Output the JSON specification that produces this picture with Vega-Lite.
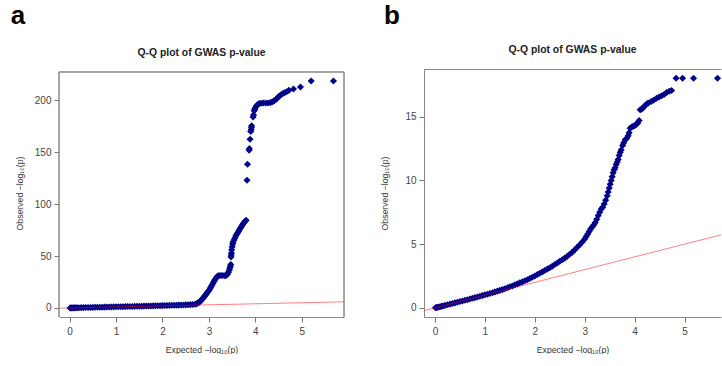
{
  "$schema": "https://vega.github.io/schema/vega-lite/v6.json",
  "padding": {"left": 10, "top": 3, "right": 0, "bottom": 0},
  "background": "white",
  "config": {
    "font": "Liberation Sans",
    "view": {"stroke": null},
    "axis": {"grid": false, "domain": false, "tickColor": "#777", "tickSize": 5, "labelColor": "#444", "labelFontSize": 10, "labelFont": "Liberation Sans", "labelPadding": 3, "titleFont": "Liberation Sans", "titleFontSize": 8.7, "titleFontWeight": "normal", "titleColor": "#333"},
    "title": {"font": "Liberation Sans"}
  },
  "datasets": {
    "qa": [
      {"x":0.01,"y":0.0},{"x":0.03,"y":0.02},{"x":0.05,"y":0.05},{"x":0.08,"y":0.07},{"x":0.1,"y":0.1},{"x":0.13,"y":0.12},{"x":0.16,"y":0.15},{"x":0.2,"y":0.2},{"x":0.25,"y":0.26},{"x":0.3,"y":0.3},{"x":0.35,"y":0.36},{"x":0.4,"y":0.41},{"x":0.45,"y":0.46},{"x":0.5,"y":0.52},{"x":0.55,"y":0.57},{"x":0.6,"y":0.62},{"x":0.65,"y":0.68},{"x":0.7,"y":0.73},{"x":0.75,"y":0.78},{"x":0.8,"y":0.84},{"x":0.85,"y":0.89},{"x":0.9,"y":0.95},{"x":0.95,"y":1.0},{"x":1.0,"y":1.06},{"x":1.05,"y":1.11},{"x":1.1,"y":1.17},{"x":1.15,"y":1.22},{"x":1.2,"y":1.28},{"x":1.25,"y":1.34},{"x":1.3,"y":1.4},{"x":1.35,"y":1.45},{"x":1.4,"y":1.51},{"x":1.45,"y":1.57},{"x":1.5,"y":1.63},{"x":1.55,"y":1.69},{"x":1.6,"y":1.75},{"x":1.65,"y":1.81},{"x":1.7,"y":1.87},{"x":1.75,"y":1.93},{"x":1.8,"y":1.99},{"x":1.85,"y":2.05},{"x":1.9,"y":2.11},{"x":1.95,"y":2.17},{"x":2.0,"y":2.23},{"x":2.05,"y":2.3},{"x":2.1,"y":2.37},{"x":2.15,"y":2.44},{"x":2.2,"y":2.51},{"x":2.25,"y":2.58},{"x":2.3,"y":2.65},{"x":2.35,"y":2.72},{"x":2.4,"y":2.8},{"x":2.45,"y":2.88},{"x":2.5,"y":2.97},{"x":2.55,"y":3.06},{"x":2.6,"y":3.16},{"x":2.65,"y":3.3},{"x":2.7,"y":3.6},
      {"x":2.73,"y":4.0},{"x":2.76,"y":4.6},{"x":2.79,"y":5.4},{"x":2.81,"y":6.3},{"x":2.83,"y":7.3},{"x":2.85,"y":8.3},{"x":2.87,"y":9.3},{"x":2.89,"y":10.4},{"x":2.91,"y":11.5},{"x":2.93,"y":12.6},{"x":2.95,"y":13.8},{"x":2.97,"y":15.0},{"x":2.99,"y":16.3},{"x":3.01,"y":17.6},{"x":3.03,"y":19.2},{"x":3.05,"y":20.8},{"x":3.07,"y":22.4},{"x":3.09,"y":24.0},{"x":3.11,"y":25.6},{"x":3.13,"y":27.2},{"x":3.15,"y":28.6},{"x":3.17,"y":29.8},{"x":3.19,"y":30.7},{"x":3.22,"y":31.2},{"x":3.26,"y":31.3},{"x":3.3,"y":31.2},{"x":3.34,"y":31.0},{"x":3.37,"y":31.3},{"x":3.4,"y":32.5},{"x":3.42,"y":34.5},{"x":3.44,"y":36.5},{"x":3.45,"y":38.5},{"x":3.46,"y":40.2},{"x":3.47,"y":41.8},{"x":3.475,"y":49},{"x":3.48,"y":51},{"x":3.485,"y":53},{"x":3.49,"y":56},{"x":3.5,"y":59},{"x":3.51,"y":61.5},{"x":3.52,"y":63.5},{"x":3.54,"y":65.5},{"x":3.56,"y":67.5},{"x":3.58,"y":69.5},{"x":3.6,"y":71},{"x":3.62,"y":72.5},{"x":3.64,"y":74},{"x":3.66,"y":75.5},{"x":3.68,"y":77},{"x":3.7,"y":78.5},{"x":3.72,"y":80},{"x":3.74,"y":81.3},{"x":3.76,"y":82.5},{"x":3.78,"y":83.5},{"x":3.8,"y":84.5},
      {"x":3.82,"y":123},{"x":3.83,"y":138.5},{"x":3.865,"y":152},{"x":3.87,"y":153.5},{"x":3.885,"y":162.5},{"x":3.9,"y":170},{"x":3.91,"y":172},{"x":3.915,"y":174},{"x":3.92,"y":175.5},{"x":3.95,"y":184},{"x":3.96,"y":186},{"x":3.975,"y":190},{"x":3.985,"y":191.5},{"x":4.0,"y":193},{"x":4.02,"y":194.5},{"x":4.05,"y":196},{"x":4.08,"y":197},{"x":4.12,"y":197.3},{"x":4.17,"y":197.4},{"x":4.22,"y":197.4},{"x":4.27,"y":197.5},{"x":4.32,"y":197.8},{"x":4.36,"y":198.4},{"x":4.4,"y":199.5},{"x":4.44,"y":200.8},{"x":4.47,"y":202},{"x":4.5,"y":203.8},{"x":4.54,"y":205},{"x":4.58,"y":206.3},{"x":4.62,"y":207.2},{"x":4.67,"y":208.3},{"x":4.72,"y":209.6},{"x":4.82,"y":211},{"x":4.97,"y":212.8},{"x":5.2,"y":218.6},{"x":5.68,"y":218.6}
    ],
    "qb": [
      {"x":0.01,"y":0.0},{"x":0.03,"y":0.02},{"x":0.05,"y":0.04},{"x":0.08,"y":0.07},{"x":0.1,"y":0.09},{"x":0.13,"y":0.12},{"x":0.16,"y":0.15},{"x":0.2,"y":0.19},{"x":0.25,"y":0.24},{"x":0.3,"y":0.29},{"x":0.35,"y":0.34},{"x":0.4,"y":0.39},{"x":0.45,"y":0.44},{"x":0.5,"y":0.49},{"x":0.55,"y":0.54},{"x":0.6,"y":0.59},{"x":0.65,"y":0.64},{"x":0.7,"y":0.7},{"x":0.75,"y":0.75},{"x":0.8,"y":0.8},{"x":0.85,"y":0.85},{"x":0.9,"y":0.91},{"x":0.95,"y":0.96},{"x":1.0,"y":1.02},{"x":1.05,"y":1.07},{"x":1.1,"y":1.13},{"x":1.15,"y":1.19},{"x":1.2,"y":1.25},{"x":1.25,"y":1.31},{"x":1.3,"y":1.37},{"x":1.35,"y":1.43},{"x":1.4,"y":1.5},{"x":1.45,"y":1.57},{"x":1.5,"y":1.65},{"x":1.55,"y":1.72},{"x":1.6,"y":1.8},{"x":1.65,"y":1.88},{"x":1.7,"y":1.96},{"x":1.75,"y":2.04},{"x":1.8,"y":2.12},{"x":1.85,"y":2.21},{"x":1.9,"y":2.3},{"x":1.95,"y":2.4},{"x":2.0,"y":2.5},{"x":2.05,"y":2.61},{"x":2.1,"y":2.72},{"x":2.15,"y":2.82},{"x":2.2,"y":2.93},{"x":2.25,"y":3.04},{"x":2.3,"y":3.15},{"x":2.35,"y":3.27},{"x":2.4,"y":3.4},{"x":2.45,"y":3.52},{"x":2.5,"y":3.65},{"x":2.55,"y":3.77},{"x":2.6,"y":3.9},{"x":2.65,"y":4.05},{"x":2.7,"y":4.2},{"x":2.75,"y":4.37},{"x":2.8,"y":4.55},{"x":2.85,"y":4.75},{"x":2.9,"y":4.95},{"x":2.95,"y":5.17},{"x":3.0,"y":5.4},{"x":3.03,"y":5.6},{"x":3.06,"y":5.8},{"x":3.09,"y":6.0},{"x":3.12,"y":6.2},{"x":3.15,"y":6.35},{"x":3.18,"y":6.5},{"x":3.21,"y":6.7},{"x":3.24,"y":6.95},{"x":3.27,"y":7.25},{"x":3.3,"y":7.5},{"x":3.33,"y":7.75},{"x":3.36,"y":7.9},{"x":3.39,"y":8.15},{"x":3.42,"y":8.45},{"x":3.45,"y":8.8},{"x":3.47,"y":9.1},{"x":3.49,"y":9.4},{"x":3.51,"y":9.7},{"x":3.53,"y":10.0},{"x":3.55,"y":10.3},{"x":3.57,"y":10.6},{"x":3.59,"y":10.85},{"x":3.61,"y":11.0},{"x":3.63,"y":11.25},{"x":3.65,"y":11.45},{"x":3.67,"y":11.65},{"x":3.69,"y":11.95},{"x":3.71,"y":12.2},{"x":3.73,"y":12.4},{"x":3.76,"y":12.75},{"x":3.78,"y":12.95},{"x":3.81,"y":13.2},{"x":3.84,"y":13.3},{"x":3.87,"y":13.5},{"x":3.89,"y":13.75},{"x":3.91,"y":14.1},{"x":3.94,"y":14.2},{"x":3.97,"y":14.25},{"x":4.0,"y":14.3},{"x":4.03,"y":14.4},{"x":4.06,"y":14.5},{"x":4.09,"y":14.7},{"x":4.11,"y":15.55},{"x":4.14,"y":15.6},{"x":4.17,"y":15.7},{"x":4.2,"y":15.85},{"x":4.24,"y":16.0},{"x":4.27,"y":16.07},{"x":4.33,"y":16.2},{"x":4.38,"y":16.3},{"x":4.44,"y":16.46},{"x":4.49,"y":16.55},{"x":4.54,"y":16.65},{"x":4.59,"y":16.75},{"x":4.64,"y":16.9},{"x":4.69,"y":17.0},{"x":4.74,"y":17.06},{"x":4.83,"y":18.03},{"x":4.96,"y":18.03},{"x":5.18,"y":18.03},{"x":5.66,"y":18.03}
    ],
    "ref": [{"x": -0.5, "y": -0.5}, {"x": 6.5, "y": 6.5}]
  },
  "spacing": 35,
  "hconcat": [
    {
      "title": {"text": "a", "anchor": "start", "frame": "bounds", "fontSize": 26, "fontWeight": "bold", "color": "#000", "offset": 18.5, "dx": -5},
      "vconcat": [
        {
          "title": {"text": "Q-Q plot of GWAS p-value", "fontSize": 10.4, "fontWeight": "bold", "color": "#222", "anchor": "middle", "offset": 11},
          "width": 285,
          "height": 248,
          "layer": [
            {
              "data": {"name": "qa"},
              "mark": {"type": "point", "shape": "diamond", "filled": true, "size": 50, "color": "#00008B", "opacity": 1},
              "encoding": {
                "x": {"field": "x", "type": "quantitative", "scale": {"domain": [-0.227, 5.907], "nice": false, "zero": false}, "axis": {"values": [0, 1, 2, 3, 4, 5], "title": "Expected  −log₁₀(p)", "titlePadding": 9, "labelPadding": 4, "domain": true, "domainColor": "#888"}},
                "y": {"field": "y", "type": "quantitative", "scale": {"domain": [-8.74, 230.23], "nice": false, "zero": false}, "axis": {"values": [0, 50, 100, 150, 200], "title": "Observed  −log₁₀(p)", "titlePadding": 9.5}}
              }
            },
            {
              "data": {"name": "ref"},
              "mark": {"type": "line", "color": "red", "opacity": 0.5, "strokeWidth": 1, "clip": true},
              "encoding": {
                "x": {"field": "x", "type": "quantitative"},
                "y": {"field": "y", "type": "quantitative"}
              }
            },
            {
              "data": {"name": "ref"},
              "mark": {"type": "rule", "color": "#888", "strokeWidth": 1},
              "encoding": {
                "x": {"datum": -0.227, "type": "quantitative"},
                "y": {"datum": -8.74, "type": "quantitative"},
                "y2": {"datum": 227.34}
              }
            },
            {
              "data": {"name": "ref"},
              "mark": {"type": "rule", "color": "#888", "strokeWidth": 1},
              "encoding": {
                "x": {"datum": 5.907, "type": "quantitative"},
                "y": {"datum": -8.74, "type": "quantitative"},
                "y2": {"datum": 227.34}
              }
            },
            {
              "data": {"name": "ref"},
              "mark": {"type": "rule", "color": "#888", "strokeWidth": 1},
              "encoding": {
                "x": {"datum": -0.227, "type": "quantitative"},
                "x2": {"datum": 5.907},
                "y": {"datum": 227.34, "type": "quantitative"}
              }
            }
          ]
        }
      ]
    },
    {
      "title": {"text": "b", "anchor": "start", "frame": "bounds", "fontSize": 26, "fontWeight": "bold", "color": "#000", "offset": 15.5, "dx": 3.5},
      "vconcat": [
        {
          "title": {"text": "Q-Q plot of GWAS p-value", "fontSize": 10.4, "fontWeight": "bold", "color": "#222", "anchor": "middle", "offset": 14},
          "width": 297,
          "height": 248,
          "resolve": {"axis": {"x": "independent"}},
          "layer": [
            {
              "data": {"name": "qb"},
              "mark": {"type": "point", "shape": "diamond", "filled": true, "size": 50, "color": "#00008B", "opacity": 1},
              "encoding": {
                "x": {"field": "x", "type": "quantitative", "scale": {"domain": [-0.22, 5.73], "nice": false, "zero": false}, "axis": {"values": [0, 1, 2, 3, 4, 5], "title": "Expected  −log₁₀(p)", "titlePadding": 9, "labelPadding": 4, "domain": true, "domainColor": "#888"}},
                "y": {"field": "y", "type": "quantitative", "scale": {"domain": [-0.72, 18.75], "nice": false, "zero": false}, "axis": {"values": [0, 5, 10, 15], "title": "Observed  −log₁₀(p)", "titlePadding": 15.5, "domain": true, "domainColor": "#888"}}
              }
            },
            {
              "data": {"name": "ref"},
              "mark": {"type": "line", "color": "red", "opacity": 0.5, "strokeWidth": 1, "clip": true},
              "encoding": {
                "x": {"field": "x", "type": "quantitative", "axis": {"orient": "top", "labels": false, "ticks": false, "domain": true, "domainColor": "#888", "title": null}},
                "y": {"field": "y", "type": "quantitative"}
              }
            }
          ]
        }
      ]
    }
  ]
}
